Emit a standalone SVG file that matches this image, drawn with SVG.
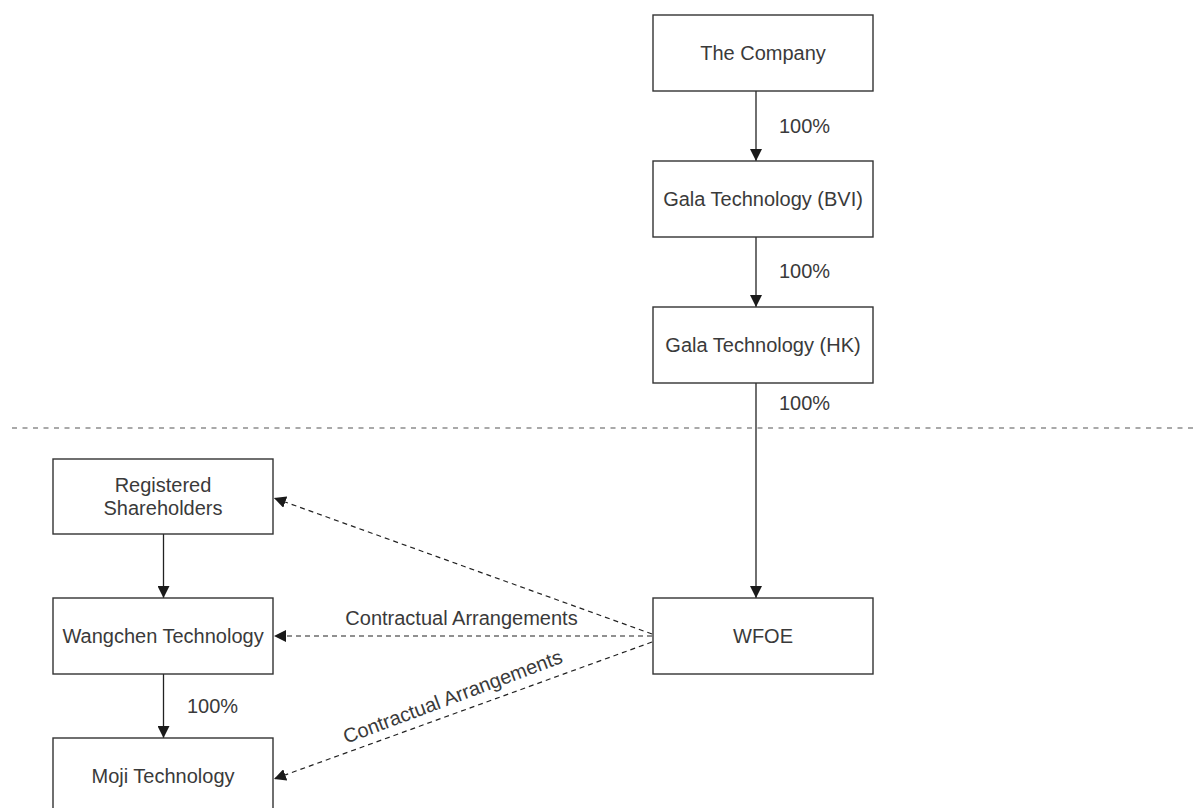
<svg xmlns="http://www.w3.org/2000/svg" width="1197" height="808" viewBox="0 0 1197 808">
  <style>
    .box { fill: #ffffff; stroke: #333333; stroke-width: 1.4; }
    .lbl { font-family: "Liberation Sans", Arial, Helvetica, sans-serif; font-size: 20px; fill: #3a3a3a; }
    .mid { text-anchor: middle; }
    .solid { stroke: #222222; stroke-width: 1.3; fill: none; marker-end: url(#arrow); }
    .dash { stroke: #222222; stroke-width: 1.2; fill: none; stroke-dasharray: 5 4; marker-end: url(#arrow); }
    .divider { stroke: #555555; stroke-width: 1.2; stroke-dasharray: 5 5.5; fill: none; }
  </style>
  <defs>
    <marker id="arrow" viewBox="0 0 12 12" refX="12" refY="6" markerWidth="12" markerHeight="12" markerUnits="userSpaceOnUse" orient="auto">
      <path d="M0,0 L12,6 L0,12 Z" fill="#1a1a1a"/>
    </marker>
  </defs>

  <line class="divider" x1="12" y1="428" x2="1197" y2="428"/>

  <g id="connectors">
    <line class="solid" x1="756" y1="91" x2="756" y2="161"/>
    <line class="solid" x1="756" y1="237" x2="756" y2="307"/>
    <line class="solid" x1="756" y1="383" x2="756" y2="598"/>
    <line class="solid" x1="163.5" y1="534" x2="163.5" y2="598"/>
    <line class="solid" x1="163.5" y1="674" x2="163.5" y2="738"/>
    <line class="dash" x1="652" y1="634" x2="274" y2="498"/>
    <line class="dash" x1="652" y1="636" x2="274" y2="636"/>
    <line class="dash" x1="652" y1="642" x2="274" y2="779"/>
    <text class="lbl" x="779" y="133">100%</text>
    <text class="lbl" x="779" y="278">100%</text>
    <text class="lbl" x="779" y="410">100%</text>
    <text class="lbl" x="187" y="713">100%</text>
    <text class="lbl mid" x="461.5" y="625">Contractual Arrangements</text>
    <text class="lbl mid" transform="translate(455,703) rotate(-20.5)">Contractual Arrangements</text>
  </g>

  <g id="the-company">
    <rect class="box" x="653" y="15" width="220" height="76"/>
    <text class="lbl mid" x="763" y="60">The Company</text>
  </g>
  <g id="gala-bvi">
    <rect class="box" x="653" y="161" width="220" height="76"/>
    <text class="lbl mid" x="763" y="206">Gala Technology (BVI)</text>
  </g>
  <g id="gala-hk">
    <rect class="box" x="653" y="307" width="220" height="76"/>
    <text class="lbl mid" x="763" y="352">Gala Technology (HK)</text>
  </g>
  <g id="wfoe">
    <rect class="box" x="653" y="598" width="220" height="76"/>
    <text class="lbl mid" x="763" y="643">WFOE</text>
  </g>
  <g id="registered-shareholders">
    <rect class="box" x="53" y="459" width="220" height="75"/>
    <text class="lbl mid" x="163" y="492">Registered</text>
    <text class="lbl mid" x="163" y="515">Shareholders</text>
  </g>
  <g id="wangchen-technology">
    <rect class="box" x="53" y="598" width="220" height="76"/>
    <text class="lbl mid" x="163" y="643">Wangchen Technology</text>
  </g>
  <g id="moji-technology">
    <rect class="box" x="53" y="738" width="220" height="76"/>
    <text class="lbl mid" x="163" y="783">Moji Technology</text>
  </g>
</svg>
